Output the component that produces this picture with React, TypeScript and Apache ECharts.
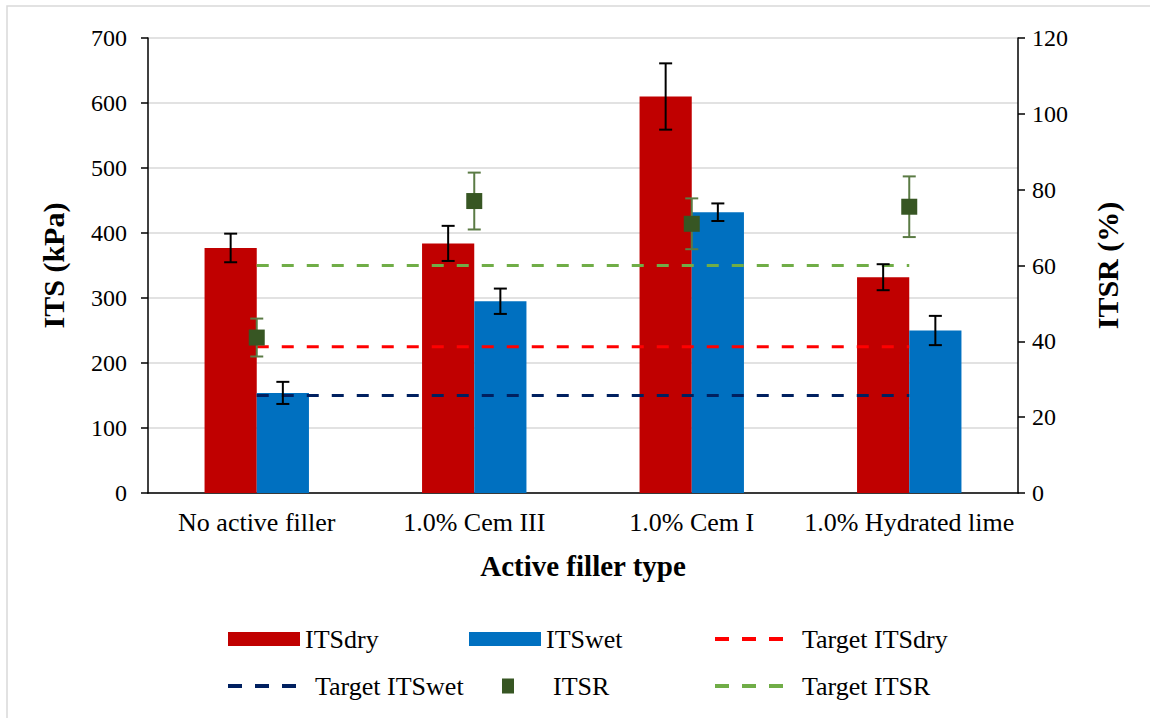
import React, { useEffect, useRef } from "react";
import * as echarts from "echarts";

const categories = ["No active filler", "1.0% Cem III", "1.0% Cem I", "1.0% Hydrated lime"];
const itsDry = [377, 384, 610, 332];
const itsDryErr = [22, 27, 51, 20];
const itsWet = [154, 295, 432, 250];
const itsWetErr = [17, 19.5, 13.5, 22.5];
const itsr = [41, 77, 71, 75.5];
const itsrErr = [5, 7.5, 6.7, 8];
const targetItsDry = [225, 225, 225, 225];
const targetItsWet = [150, 150, 150, 150];
const targetItsr = [60, 60, 60, 60];

const FONT = "'Liberation Serif', 'Times New Roman', serif";

function errorSeries(values: number[], errs: number[], offsetFrac: number, yAxisIndex: number, color: string, lw: number) {
  return {
    type: "custom",
    yAxisIndex,
    z: 12,
    silent: true,
    data: values.map((v, i) => [i, v - errs[i], v + errs[i]]),
    encode: { x: 0, y: [1, 2] },
    renderItem: (params: any, api: any) => {
      const i = api.value(0);
      const lo = api.coord([i, api.value(1)]);
      const hi = api.coord([i, api.value(2)]);
      const band = api.size([1, 0])[0];
      const x = lo[0] + band * offsetFrac;
      const half = 6.5;
      const style = { stroke: color, lineWidth: lw };
      return {
        type: "group",
        children: [
          { type: "line", shape: { x1: x, y1: hi[1], x2: x, y2: lo[1] }, style },
          { type: "line", shape: { x1: x - half, y1: hi[1], x2: x + half, y2: hi[1] }, style },
          { type: "line", shape: { x1: x - half, y1: lo[1], x2: x + half, y2: lo[1] }, style },
        ],
      };
    },
  };
}

function legendAt(name: string, left: number, top: number, w: number, h: number, icon?: string, isLine?: boolean) {
  const l: any = {
    data: [icon ? { name, icon } : { name }],
    left,
    top,
    itemWidth: w,
    itemHeight: h,
    padding: 0,
    selectedMode: false,
    textStyle: { fontFamily: FONT, fontSize: 26, color: "#000" },
  };
  if (isLine) {
    l.itemStyle = { opacity: 0 };
    l.lineStyle = { width: 4, type: [14, 13] };
    l.textStyle.padding = [0, 0, 0, 14];
  }
  return l;
}

export default function App() {
  const ref = useRef<HTMLDivElement>(null);
  useEffect(() => {
    if (!ref.current) return;
    const chart = echarts.init(ref.current, undefined, { renderer: "svg" });
    const dash = [12, 13];
    chart.setOption({
      animation: false,
      backgroundColor: "#fff",
      graphic: [
        {
          type: "rect",
          shape: { x: 7, y: 6, width: 1170, height: 740 },
          style: { fill: "none", stroke: "#D9D9D9", lineWidth: 1.5 },
          silent: true,
        },
      ],
      grid: { left: 148, right: 132, top: 38, bottom: 225 },
      legend: [
        legendAt("ITSdry", 228, 626, 72, 14, "rect"),
        legendAt("ITSwet", 469, 626, 72, 14, "rect"),
        legendAt("Target ITSdry", 713, 626, 68, 14, undefined, true),
        legendAt("Target ITSwet", 226, 673, 68, 14, undefined, true),
        legendAt("ITSR", 480, 673, 68, 15, "path://M0,0 L0.01,0 M22,0 L34,0 L34,15 L22,15 Z M68,15 L68.01,15"),
        legendAt("Target ITSR", 713, 673, 68, 14, undefined, true),
      ],
      xAxis: {
        type: "category",
        data: categories,
        axisTick: { show: false },
        axisLine: { lineStyle: { color: "#000", width: 1.5 } },
        axisLabel: { interval: 0, fontFamily: FONT, fontSize: 26, color: "#000", margin: 16 },
        name: "Active filler type",
        nameLocation: "middle",
        nameGap: 58,
        nameTextStyle: { fontFamily: FONT, fontSize: 29, fontWeight: "bold", color: "#000" },
      },
      yAxis: [
        {
          type: "value",
          min: 0,
          max: 700,
          interval: 100,
          name: "ITS (kPa)",
          nameLocation: "middle",
          nameGap: 80,
          nameTextStyle: { fontFamily: FONT, fontSize: 30, fontWeight: "bold", color: "#000" },
          axisLine: { show: true, lineStyle: { color: "#000", width: 1.5 } },
          axisTick: { show: true, length: 7, lineStyle: { color: "#000", width: 1.5 } },
          axisLabel: { fontFamily: FONT, fontSize: 24, color: "#000", margin: 21 },
          splitLine: { show: true, lineStyle: { color: "#D9D9D9", width: 1.5 } },
        },
        {
          type: "value",
          min: 0,
          max: 120,
          interval: 20,
          position: "right",
          name: "ITSR (%)",
          nameLocation: "middle",
          nameGap: 74,
          nameTextStyle: { fontFamily: FONT, fontSize: 30, fontWeight: "bold", color: "#000" },
          axisLine: { show: true, lineStyle: { color: "#000", width: 1.5 } },
          axisTick: { show: true, length: 7, lineStyle: { color: "#000", width: 1.5 } },
          axisLabel: { fontFamily: FONT, fontSize: 24, color: "#000", margin: 14 },
          splitLine: { show: false },
        },
      ],
      series: [
        {
          name: "ITSdry",
          type: "bar",
          data: itsDry,
          barWidth: "24%",
          barGap: "0%",
          itemStyle: { color: "#C00000" },
          z: 2,
        },
        {
          name: "ITSwet",
          type: "bar",
          data: itsWet,
          barWidth: "24%",
          barGap: "0%",
          itemStyle: { color: "#0070C0" },
          z: 2,
        },
        {
          name: "Target ITSdry",
          type: "line",
          data: targetItsDry,
          symbol: "none",
          lineStyle: { color: "#FF0000", width: 3, type: dash },
          itemStyle: { color: "#FF0000", opacity: 0 },
          z: 5,
        },
        {
          name: "Target ITSwet",
          type: "line",
          data: targetItsWet,
          symbol: "none",
          lineStyle: { color: "#002060", width: 3, type: dash },
          itemStyle: { color: "#002060", opacity: 0 },
          z: 5,
        },
        {
          name: "Target ITSR",
          type: "line",
          yAxisIndex: 1,
          data: targetItsr,
          symbol: "none",
          lineStyle: { color: "#70AD47", width: 3, type: dash },
          itemStyle: { color: "#70AD47", opacity: 0 },
          z: 5,
        },
        errorSeries(itsDry, itsDryErr, -0.12, 0, "#000", 2),
        errorSeries(itsWet, itsWetErr, 0.12, 0, "#000", 2),
        errorSeries(itsr, itsrErr, 0, 1, "#5B7B45", 2),
        {
          name: "ITSR",
          type: "scatter",
          yAxisIndex: 1,
          data: itsr,
          symbol: "rect",
          symbolSize: 16,
          itemStyle: { color: "#375623", opacity: 1 },
          z: 14,
        },
      ],
    });
    return () => chart.dispose();
  }, []);
  return (
    <div
      ref={ref}
      style={{ position: "fixed", left: 0, top: 0, width: 1150, height: 718, background: "#fff" }}
    />
  );
}
